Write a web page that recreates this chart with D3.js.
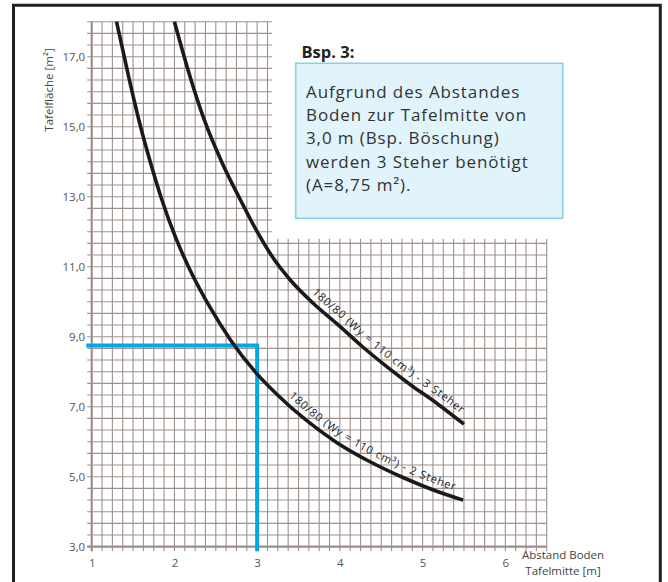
<!DOCTYPE html>
<html>
<head>
<meta charset="utf-8">
<script src="https://cdn.jsdelivr.net/npm/d3@7"></script>
<style>
  html, body { margin: 0; padding: 0; background: #fff; }
  svg { display: block; }
  text { font-family: "Open Sans", "DejaVu Sans", sans-serif; }
</style>
</head>
<body>
<svg id="chart" width="668" height="582"></svg>
<script>
// Axis ticks
const xTicks = [1, 2, 3, 4, 5, 6];
const yTicks = [3, 5, 7, 9, 11, 13, 15, 17];

// Required board area per distance ground–board centre (m → m²)
const steher3Distance = [2.0, 2.18, 2.36, 2.58, 2.8, 3.0, 3.19, 3.4, 3.68, 3.96, 4.27, 4.57, 4.87, 5.17, 5.5];
const steher3Area     = [18.0, 16.5, 15.2, 13.95, 12.9, 12.0, 11.26, 10.62, 9.95, 9.38, 8.72, 8.14, 7.6, 7.1, 6.5];
const steher2Distance = [1.3, 1.44, 1.58, 1.72, 1.85, 2.02, 2.2, 2.44, 2.68, 3.0, 3.24, 3.6, 3.96, 4.37, 4.77, 5.13, 5.49];
const steher2Area     = [18.0, 16.5, 15.1, 13.9, 12.9, 11.8, 10.85, 9.8, 8.9, 7.93, 7.35, 6.6, 5.98, 5.42, 4.97, 4.62, 4.33];

const curveLabels = [
  "180/80 (Wy = 110 cm³) - 3 Steher",
  "180/80 (Wy = 110 cm³) - 2 Steher"
];

// Worked example: 3,0 m distance → A = 8,75 m²
const exampleDistance = 3.0;
const exampleArea = 8.75;

const boxTitle = "Bsp. 3:";
const boxLines = [
  "Aufgrund des Abstandes",
  "Boden zur Tafelmitte von",
  "3,0 m (Bsp. Böschung)",
  "werden 3 Steher benötigt",
  "(A=8,75 m²)."
];

const svg = d3.select("#chart");

const x = d3.scaleLinear().domain([1, 6.5]).range([91.7, 546.7]);
const y = d3.scaleLinear().domain([3, 18]).range([546.7, 21.7]);

// Outer frame
svg.append("path")
  .attr("d", "M13.5,590 V5.3 H660.3 V590")
  .attr("fill", "none")
  .attr("stroke", "#231f20")
  .attr("stroke-width", 3);

// Millimetre-style grid with a notch in the upper right for the note box
const gridColor = "#9e908d";
const cutX = 3.125, cutY = 11 + 2 / 3;
const over = 4.5;
const grid = svg.append("g").attr("stroke", gridColor).attr("stroke-width", 1.1);

d3.range(0, 46).map(j => 3 + j / 3).forEach(v => {
  const upper = v > cutY + 1e-6;
  grid.append("line")
    .attr("x1", x(1) - over).attr("x2", upper ? x(cutX) + over : x(6.5))
    .attr("y1", y(v)).attr("y2", y(v));
});
d3.range(0, 45).map(k => 1 + k * 0.125).forEach(u => {
  const right = u > cutX + 1e-6;
  grid.append("line")
    .attr("x1", x(u)).attr("x2", x(u))
    .attr("y1", y(3) + over).attr("y2", right ? y(cutY) - over : y(18));
});

// Axis lines
svg.append("line")
  .attr("x1", x(1)).attr("x2", x(1)).attr("y1", y(3) + over).attr("y2", y(18))
  .attr("stroke", gridColor).attr("stroke-width", 2.2);
svg.append("line")
  .attr("x1", x(1) - over).attr("x2", x(6.5)).attr("y1", y(3)).attr("y2", y(3))
  .attr("stroke", gridColor).attr("stroke-width", 2.2);

// Tick labels via d3 axes
const fmt = d => d.toFixed(1).replace(".", ",");
const yAxis = svg.append("g")
  .attr("transform", `translate(${x(1) - 6.5},0)`)
  .call(d3.axisLeft(y).tickValues(yTicks).tickFormat(fmt).tickSize(0).tickPadding(0));
const xAxis = svg.append("g")
  .attr("transform", `translate(0,${y(3) + 12})`)
  .call(d3.axisBottom(x).tickValues(xTicks).tickFormat(d3.format("d")).tickSize(0).tickPadding(0));
[yAxis, xAxis].forEach(a => {
  a.select(".domain").remove();
  a.selectAll("text")
    .attr("font-family", "\"Open Sans\", sans-serif")
    .attr("font-size", 11.5)
    .attr("fill", "#555");
});

// Axis titles
svg.append("text")
  .attr("transform", "translate(53,90) rotate(-90)")
  .attr("text-anchor", "middle")
  .attr("font-size", 11.5).attr("fill", "#444")
  .text("Tafelfläche [m²]");
svg.append("text")
  .attr("x", 563).attr("y", 559)
  .attr("text-anchor", "middle")
  .attr("font-size", 11.5).attr("fill", "#444")
  .text("Abstand Boden");
svg.append("text")
  .attr("x", 563).attr("y", 574.5)
  .attr("text-anchor", "middle")
  .attr("font-size", 11.5).attr("fill", "#444")
  .text("Tafelmitte [m]");

// Example guide line (blue)
svg.append("path")
  .attr("d", `M${x(1) - 5.5},${y(exampleArea)} H${x(exampleDistance)} V${y(3) + over}`)
  .attr("fill", "none")
  .attr("stroke", "#00a8e4")
  .attr("stroke-width", 4);

// Curves
const line = d3.line().x(d => x(d[0])).y(d => y(d[1])).curve(d3.curveMonotoneX);
const series = [
  { id: "c3", pts: d3.zip(steher3Distance, steher3Area), label: curveLabels[0], from: 3.66 },
  { id: "c2", pts: d3.zip(steher2Distance, steher2Area), label: curveLabels[1], from: 3.38 }
];
const defs = svg.append("defs");
series.forEach(s => {
  const p = svg.append("path")
    .attr("d", line(s.pts))
    .attr("fill", "none")
    .attr("stroke", "#1a1a1a")
    .attr("stroke-width", 3.6);
  const node = p.node();
  const total = node.getTotalLength();

  // Baseline for the label: the curve shifted to its upper-right side,
  // extended a little past the curve end so the last glyphs fit.
  const off = 6.5, n = 200, ext = 12;
  const base = [];
  for (let i = 0; i <= n; i++) {
    const L = total * i / n;
    const a = node.getPointAtLength(Math.max(0, L - 1));
    const b = node.getPointAtLength(Math.min(total, L + 1));
    const c = node.getPointAtLength(L);
    const len = Math.hypot(b.x - a.x, b.y - a.y);
    const tx = (b.x - a.x) / len, ty = (b.y - a.y) / len;
    base.push([c.x + off * ty, c.y - off * tx, tx, ty]);
  }
  const last = base[base.length - 1];
  base.push([last[0] + ext * last[2], last[1] + ext * last[3]]);
  const lp = defs.append("path")
    .attr("id", s.id)
    .attr("d", d3.line()(base.map(q => [q[0], q[1]])));
  const ln = lp.node();
  const lt = ln.getTotalLength();
  let lo = 0, hi = lt;
  const target = x(s.from);
  for (let i = 0; i < 40; i++) {
    const mid = (lo + hi) / 2;
    if (ln.getPointAtLength(mid).x < target) lo = mid; else hi = mid;
  }
  svg.append("text")
    .attr("font-size", 11)
    .attr("fill", "#222")
    .append("textPath")
    .attr("href", "#" + s.id)
    .attr("startOffset", lo)
    .attr("textLength", 192)
    .attr("lengthAdjust", "spacing")
    .text(s.label);
});

// Note box
svg.append("rect")
  .attr("x", 295.7).attr("y", 63.3)
  .attr("width", 267).attr("height", 155)
  .attr("fill", "#e1f4fb")
  .attr("stroke", "#88d2e6")
  .attr("stroke-width", 1.6);
svg.append("text")
  .attr("x", 301.5).attr("y", 58.3)
  .attr("font-size", 16.5).attr("font-weight", "bold").attr("fill", "#222")
  .text(boxTitle);
const bt = svg.append("text")
  .attr("font-size", 17).attr("letter-spacing", 0.9).attr("fill", "#333");
boxLines.forEach((t, i) => {
  bt.append("tspan").attr("x", 306).attr("y", 97.7 + i * 23.3).text(t);
});
</script>
</body>
</html>
